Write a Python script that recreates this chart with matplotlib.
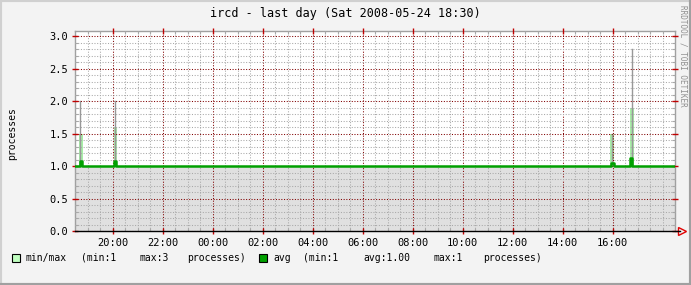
import numpy as np
import matplotlib.pyplot as plt
from matplotlib.lines import Line2D
from matplotlib.patches import Rectangle

# graph covers 24 h starting at 18:30 on the previous day
start_clock = 18.5
tick_labels = ["20:00", "22:00", "00:00", "02:00", "04:00", "06:00",
               "08:00", "10:00", "12:00", "14:00", "16:00"]

# short process spikes (clock time), everything else sits at 1 process
spike_times = ["18:44", "20:07", "15:59", "16:47"]
peak_vals = [2.0, 2.0, 1.5, 2.8]      # grey max line
max_vals = [1.5, 1.6, 1.5, 1.9]       # light green min/max area
avg_vals = [1.07, 1.07, 1.05, 1.12]   # dark green avg
base_val = 1.0

W, H = 691, 285
BG = "#f3f3f3"
GRID_MINOR = "#a8a8a8"
GRID_MAJOR = "#800000"
MONO = "DejaVu Sans Mono"


def clock_to_offset(s):
    h, m = s.split(":")
    t = int(h) + int(m) / 60.0 - start_clock
    return t % 24


def main():
    step = 5 / 60.0
    t = np.arange(0, 24 + step, step)
    avg = np.full_like(t, base_val)
    for s, a in zip(spike_times, avg_vals):
        i = int(round(clock_to_offset(s) / step))
        avg[i] = a

    fig = plt.figure(figsize=(W / 100, H / 100), dpi=100, facecolor=BG)
    ax = fig.add_axes([75 / W, (H - 231) / H, 600 / W, 200 / H])
    ax.set_facecolor("white")
    ax.set_xlim(0, 24)
    ax.set_ylim(0, 3.077)

    # grid
    ax.set_xticks([clock_to_offset(l) for l in tick_labels])
    ax.set_xticks(np.arange(0.5, 24, 0.5), minor=True)
    ax.set_yticks(np.arange(0, 3.01, 0.5))
    ax.set_yticks(np.arange(0, 3.01, 0.1), minor=True)
    ax.grid(which="minor", color=GRID_MINOR, linestyle=(0, (1, 1.6)), lw=0.75)
    ax.grid(which="major", color=GRID_MAJOR, linestyle=(0, (1, 1.6)), lw=0.75)
    ax.set_axisbelow(False)

    # min area (grey below the min), min/max band, max line, avg line
    ax.fill_between(t, 0, base_val, color="#e0e0e0", lw=0, zorder=0.5)
    xs = [clock_to_offset(s) for s in spike_times]
    ax.bar(xs, [m - base_val for m in max_vals], bottom=base_val,
           width=step * 1.6, color="#a8eca8", lw=0, zorder=1)
    for x, p in zip(xs, peak_vals):
        ax.plot([x - 0.02, x - 0.02], [base_val, p], color="#989898",
                lw=1.0, zorder=1.5)
    ax.step(t, avg, where="mid", color="#00a000", lw=1.8, zorder=3)

    ax.set_xticklabels(tick_labels, fontfamily=MONO, fontsize=7.5)
    ax.set_yticklabels(["%.1f" % v for v in np.arange(0, 3.01, 0.5)],
                       fontfamily=MONO, fontsize=7.5)
    ax.tick_params(which="major", direction="inout", length=4, width=1,
                   color="#c00000", top=True, right=True, pad=3)
    ax.tick_params(which="minor", direction="in", length=2, width=0.8,
                   color=GRID_MINOR, top=True, right=True)
    for side in ["top", "right", "left"]:
        ax.spines[side].set_color("#a0a0a0")
        ax.spines[side].set_linewidth(1)
    ax.spines["bottom"].set_visible(False)

    # x axis line with arrow
    tf = fig.transFigure
    fig.add_artist(Line2D([75 / W, 680 / W], [(H - 231) / H] * 2,
                          color="black", lw=1, transform=tf))
    ax.plot([1.012], [0], marker=">", ms=6, mfc="none", mec="#e00000",
            mew=1, transform=ax.transAxes, clip_on=False)

    # titles
    fig.text(0.5, 1 - 14 / H, "ircd - last day (Sat 2008-05-24 18:30)",
             ha="center", va="center", fontfamily=MONO, fontsize=8.5)
    fig.text(12 / W, 1 - 134 / H, "processes", rotation=90, ha="center",
             va="center", fontfamily=MONO, fontsize=7)
    fig.text(683 / W, 1 - 5 / H, "RRDTOOL / TOBI OETIKER", rotation=270,
             ha="center", va="top", fontfamily=MONO, fontsize=5.5,
             color="#909090")

    # legend
    ly = 1 - 258 / H
    sq = 8
    fig.add_artist(Rectangle((12 / W, ly - sq / 2 / H), sq / W, sq / H,
                             fc="#c0ffc0", ec="black", lw=0.8, transform=tf))
    fig.add_artist(Rectangle((259 / W, ly - sq / 2 / H), sq / W, sq / H,
                             fc="#00a000", ec="black", lw=0.8, transform=tf))
    legend_items = [(26, "min/max"), (81, "(min:1"), (140, "max:3"),
                    (187, "processes)"), (273, "avg"), (303, "(min:1"),
                    (363, "avg:1.00"), (434, "max:1"), (483, "processes)")]
    for x, s in legend_items:
        fig.text(x / W, ly, s, ha="left", va="center", fontfamily=MONO,
                 fontsize=7)

    # 3d-ish canvas border
    fig.add_artist(Line2D([0, 0, 1], [0, 1, 1], color="#d0d0d0", lw=3,
                          transform=tf))
    fig.add_artist(Line2D([0, 1, 1], [0, 0, 1], color="#a0a0a0", lw=3,
                          transform=tf))

    fig.savefig("out.png", dpi=100, facecolor=BG)


if __name__ == "__main__":
    main()
